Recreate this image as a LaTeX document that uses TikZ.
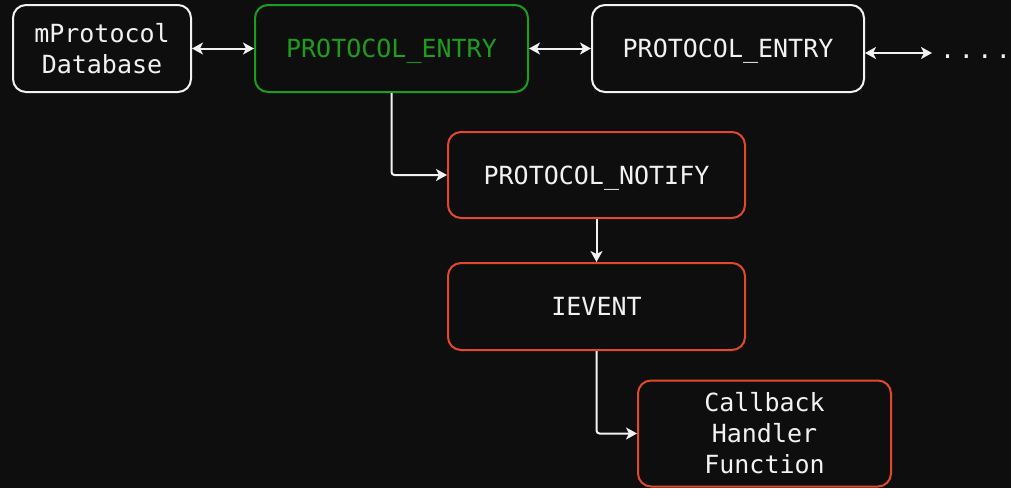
\documentclass[tikz,border=0pt]{standalone}
\usepackage{fontspec}
\setmonofont{DejaVu Sans Mono}
\usetikzlibrary{arrows.meta}
\definecolor{bg}{HTML}{0E0E0E}
\definecolor{fg}{HTML}{F2F2F2}
\definecolor{entrygreen}{HTML}{1E9C1E}
\definecolor{notered}{HTML}{E2492B}
\begin{document}
\begin{tikzpicture}[x=1pt,y=-1pt,
  font=\ttfamily\fontsize{25}{31}\selectfont,
  box/.style={draw=fg,line width=2pt,rounded corners=13pt,text=fg,align=center,inner sep=0pt},
  greenbox/.style={box,draw=entrygreen,text=entrygreen},
  redbox/.style={box,draw=notered},
  tip/.tip={Stealth[length=11pt,width=12pt,inset=3pt]},
  link/.style={draw=fg,line width=2pt,-tip},
  dlink/.style={link,tip-tip}]
  \fill[bg] (0,0) rectangle (1011,488);
  \useasboundingbox (0,0) rectangle (1011,488);

  % top row: database and entry list
  \node[box,minimum width=178pt,minimum height=87pt] (db) at (102,48.5) {mProtocol\\Database};
  \node[greenbox,minimum width=273pt,minimum height=87pt,text depth=0pt] (e1) at (391.5,48.5) {PROTOCOL\_ENTRY};
  \node[box,minimum width=272pt,minimum height=87pt,text depth=0pt] (e2) at (728,48.5) {PROTOCOL\_ENTRY};
  \coordinate (more) at (932,53);
  \node[text=fg,anchor=base west,inner sep=0pt] (dots) at (940,58)
    {.\hspace{3.5pt}.\hspace{3.5pt}.\hspace{3.5pt}.};

  % notification chain
  \node[redbox,minimum width=297pt,minimum height=86pt,text depth=0pt] (notify) at (596.5,175) {PROTOCOL\_NOTIFY};
  \node[redbox,minimum width=297pt,minimum height=87pt] (ievent) at (596.5,306.5) {IEVENT};
  \node[redbox,minimum width=253pt,minimum height=106pt] (cb) at (764.5,433.5) {Callback\\Handler\\Function};

  % connectors
  \draw[dlink] (db.east) -- (e1.west);
  \draw[dlink] (e1.east) -- (e2.west);
  \draw[dlink] (e2.east |- more) -- (more);
  \draw[link,rounded corners=3pt] (e1.south) |- (notify.west);
  \draw[link] (notify.south) -- (ievent.north);
  \draw[link,rounded corners=3pt] (ievent.south) |- (cb.west);
\end{tikzpicture}
\end{document}
